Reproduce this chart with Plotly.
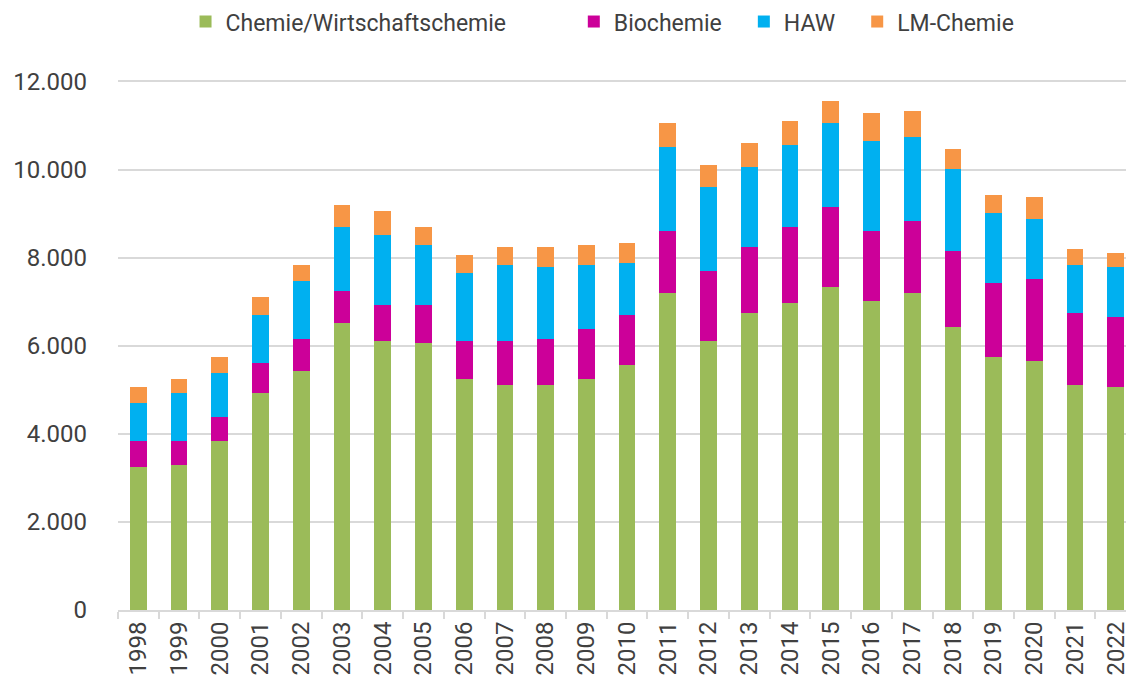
import plotly.graph_objects as go

years = [str(y) for y in range(1998, 2023)]

chemie = [3243, 3289, 3834, 4925, 5425, 6516, 6107, 6061, 5243, 5107, 5107, 5243, 5561,
          7198, 6107, 6743, 6970, 7334, 7016, 7198, 6425, 5743, 5652, 5107, 5061]
biochemie = [591, 545, 546, 682, 727, 727, 818, 864, 864, 1000, 1045, 1137, 1137,
             1409, 1591, 1500, 1728, 1818, 1591, 1636, 1727, 1682, 1864, 1636, 1591]
haw = [864, 1091, 1000, 1091, 1318, 1455, 1591, 1364, 1545, 1727, 1637, 1454, 1182,
       1909, 1909, 1818, 1863, 1909, 2045, 1909, 1864, 1591, 1363, 1091, 1137]
lm_chemie = [363, 318, 363, 408, 364, 500, 545, 409, 409, 409, 454, 455, 454,
             545, 500, 546, 545, 500, 636, 591, 454, 409, 500, 363, 318]

series = [
    ("Chemie/Wirtschaftschemie", chemie, "#9BBB59", 11),
    ("Biochemie", biochemie, "#CC0099", 3),
    ("HAW", haw, "#00B0F0", 3),
    ("LM-Chemie", lm_chemie, "#F79646", 0),
]

fig = go.Figure()
for name, vals, color, pad in series:
    fig.add_trace(go.Bar(
        x=years, y=vals, name=name + "\u00a0" * pad,
        marker=dict(color=color, line=dict(width=0)),
    ))

font_color = "#404040"
fig.update_layout(
    width=1126, height=688,
    barmode="stack",
    bargap=0.59,
    plot_bgcolor="white",
    paper_bgcolor="white",
    separators=",.",
    font=dict(family="Roboto", size=24, color=font_color),
    margin=dict(l=118, r=0, t=77, b=78, autoexpand=False),
    legend=dict(
        orientation="h", x=0.067, xanchor="left", y=1.104, yanchor="middle",
        font=dict(size=23, color=font_color), traceorder="normal",
        bgcolor="rgba(0,0,0,0)",
    ),
    xaxis=dict(
        type="category", range=[-0.5, 24.25],
        tickangle=-90, showline=True, linecolor="#D9D9D9", linewidth=2,
        ticks="outside", tickson="boundaries", ticklen=7, tickwidth=2,
        tickcolor="#D9D9D9", showgrid=False, automargin=False,
        tickfont=dict(size=24, color=font_color),
    ),
    yaxis=dict(
        range=[0, 12100], tickvals=[0, 2000, 4000, 6000, 8000, 10000, 12000],
        tickformat=",d", showgrid=True, gridcolor="#D9D9D9", gridwidth=2,
        zeroline=False, showline=False, ticks="", ticklabelstandoff=30,
        automargin=False, tickfont=dict(size=24, color=font_color),
    ),
)

fig.write_html(
    "out.html",
    config={"displayModeBar": False},
    post_script="document.body.style.margin='0';document.body.style.overflow='hidden';",
)
